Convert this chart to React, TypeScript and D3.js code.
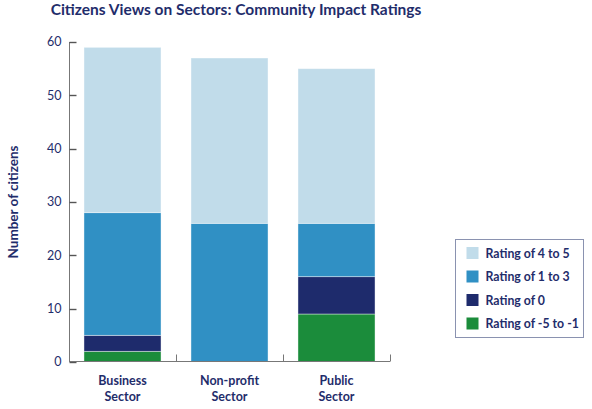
import { useEffect, useRef } from "react";
import * as d3 from "d3";

const sectors = ["Business\nSector", "Non-profit\nSector", "Public\nSector"];
const ratingNeg = [2, 0, 9];
const ratingZero = [3, 0, 7];
const ratingLow = [23, 26, 10];
const ratingHigh = [31, 31, 29];

const seriesNames = ["Rating of -5 to -1", "Rating of 0", "Rating of 1 to 3", "Rating of 4 to 5"];
const seriesColors = ["#1b8c3b", "#1e2b6c", "#3090c4", "#c1dcea"];
const yTicks = [0, 10, 20, 30, 40, 50, 60];

const W = 592;
const H = 409;
const ink = "#1f2d6b";
const font = "Lato, 'Open Sans', sans-serif";

export default function App() {
  const ref = useRef<SVGSVGElement>(null);

  useEffect(() => {
    const svg = d3.select(ref.current);
    svg.selectAll("*").remove();

    const x = d3.scaleBand().domain(sectors).range([69, 390]).paddingInner(0.28).paddingOuter(0.14);
    const y = d3.scaleLinear().domain([0, 60]).range([362, 42]);

    const rows = sectors.map((s, i) => ({
      sector: s,
      neg: ratingNeg[i],
      zero: ratingZero[i],
      low: ratingLow[i],
      high: ratingHigh[i],
    }));
    const stack = d3.stack<any>().keys(["neg", "zero", "low", "high"])(rows);

    // bars
    svg
      .append("g")
      .selectAll("g")
      .data(stack)
      .join("g")
      .attr("fill", (d, i) => seriesColors[i])
      .selectAll("rect")
      .data((d) => d.filter((p) => p[1] > p[0]))
      .join("rect")
      .attr("x", (d) => x(d.data.sector)!)
      .attr("width", x.bandwidth())
      .attr("y", (d) => y(d[1]))
      .attr("height", (d) => y(d[0]) - y(d[1]))
      .attr("stroke", "#ffffff")
      .attr("stroke-opacity", 0.5)
      .attr("stroke-width", 0.8);

    // y axis
    const yAxis = svg.append("g").attr("transform", "translate(69.5,0)");
    yAxis.append("line").attr("y1", y(60)).attr("y2", y(0)).attr("stroke", "#777");
    yAxis
      .selectAll("line.tick")
      .data(yTicks)
      .join("line")
      .attr("class", "tick")
      .attr("x1", 0)
      .attr("x2", 7)
      .attr("y1", (d) => Math.round(y(d)) + 0.5)
      .attr("y2", (d) => Math.round(y(d)) + 0.5)
      .attr("stroke", "#555")
      .attr("stroke-width", 1.4);
    yAxis
      .selectAll("text")
      .data(yTicks)
      .join("text")
      .attr("x", -8)
      .attr("y", (d) => y(d))
      .attr("dy", "0.35em")
      .attr("text-anchor", "end")
      .attr("fill", ink)
      .attr("font-size", 12.5)
      .text((d) => d);

    // x axis
    const xAxis = svg.append("g").attr("transform", "translate(0,361.5)");
    xAxis.append("line").attr("x1", 69).attr("x2", 390).attr("stroke", "#777");
    const bounds = sectors.map((s) => x(s)! + x.bandwidth() + x.step() * 0.14);
    xAxis
      .selectAll("line.tick")
      .data(bounds)
      .join("line")
      .attr("class", "tick")
      .attr("x1", (d) => Math.round(d) + 0.5)
      .attr("x2", (d) => Math.round(d) + 0.5)
      .attr("y1", 0)
      .attr("y2", -7)
      .attr("stroke", "#777");
    xAxis
      .selectAll("text")
      .data(sectors)
      .join("text")
      .attr("x", (d) => x(d)! + x.bandwidth() / 2)
      .attr("y", 23)
      .attr("text-anchor", "middle")
      .attr("fill", ink)
      .attr("font-size", 12.5)
      .attr("font-weight", "bold")
      .selectAll("tspan")
      .data((d) => d.split("\n"))
      .join("tspan")
      .attr("x", function () {
        return (this.parentNode as SVGTextElement).getAttribute("x");
      })
      .attr("dy", (d, i) => (i === 0 ? 0 : 16))
      .text((d) => d);

    // y label
    svg
      .append("text")
      .attr("transform", `translate(18,${y(30)}) rotate(-90)`)
      .attr("text-anchor", "middle")
      .attr("fill", ink)
      .attr("font-size", 13.5)
      .attr("font-weight", "bold")
      .text("Number of citizens");

    // title
    svg
      .append("text")
      .attr("x", 236)
      .attr("y", 15)
      .attr("text-anchor", "middle")
      .attr("fill", ink)
      .attr("font-size", 15.5)
      .attr("font-weight", "bold")
      .text("Citizens Views on Sectors: Community Impact Ratings");

    // legend
    const legend = svg.append("g").attr("transform", "translate(455.5,239.5)");
    legend
      .append("rect")
      .attr("width", 128)
      .attr("height", 98)
      .attr("fill", "#fff")
      .attr("stroke", "#8a92b0");
    const order = [3, 2, 1, 0];
    const item = legend
      .selectAll("g")
      .data(order)
      .join("g")
      .attr("transform", (d, i) => `translate(11,${14 + i * 23.5})`);
    item
      .append("rect")
      .attr("y", -6.5)
      .attr("width", 12)
      .attr("height", 12)
      .attr("fill", (d) => seriesColors[d]);
    item
      .append("text")
      .attr("x", 19)
      .attr("dy", "0.35em")
      .attr("fill", ink)
      .attr("font-size", 12.3)
      .attr("font-weight", "bold")
      .text((d) => seriesNames[d]);
  }, []);

  return (
    <svg
      ref={ref}
      width={W}
      height={H}
      style={{ position: "absolute", left: 0, top: 0, background: "#fff", fontFamily: font }}
    />
  );
}
